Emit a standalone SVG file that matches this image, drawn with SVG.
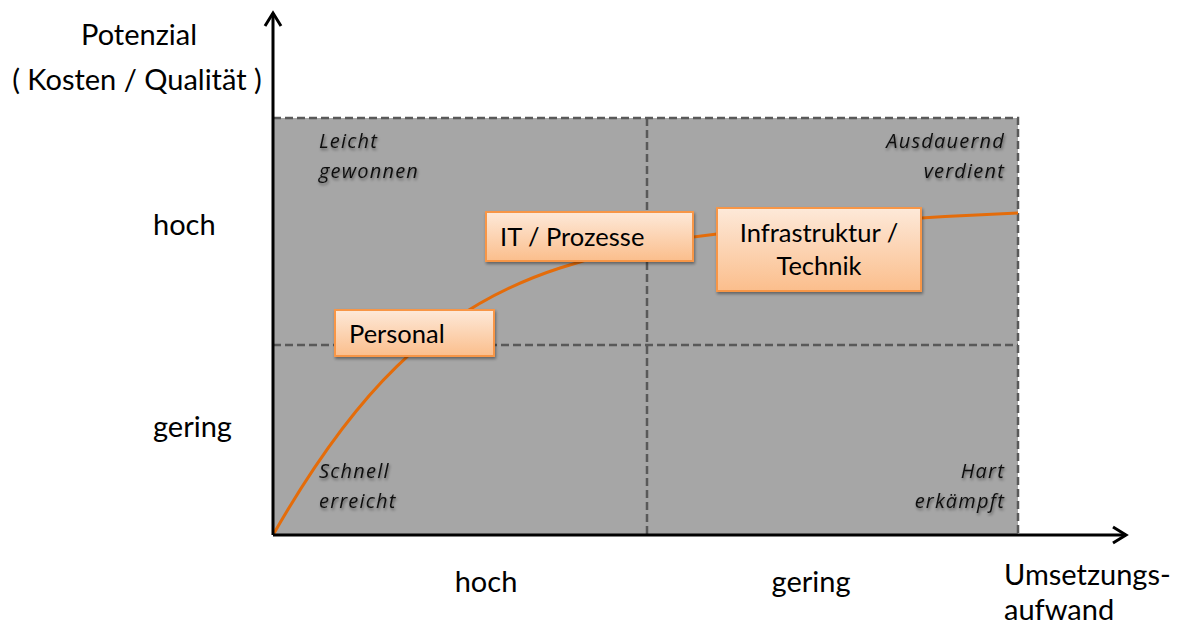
<svg xmlns="http://www.w3.org/2000/svg" width="1181" height="630" viewBox="0 0 1181 630">
  <style>
    .lbl { font-family: Lato, "Open Sans", "Liberation Sans", sans-serif; font-size: 29px; fill: #000; }
    .box-txt { font-family: Lato, "Open Sans", "Liberation Sans", sans-serif; font-size: 25.5px; fill: #000; }
    .quad { font-family: "Open Sans", Lato, "Liberation Sans", sans-serif; font-size: 20px; font-style: italic; letter-spacing: 1.2px; fill: #111; filter: url(#txtShadow); }
    .grid { stroke: #595959; stroke-width: 2.5; stroke-dasharray: 8 4; fill: none; }
    .axis { stroke: #000; stroke-width: 3; fill: none; }
    .box { fill: url(#boxGrad); stroke: #f79646; stroke-width: 2; filter: url(#boxShadow); }
  </style>
  <defs>
    <linearGradient id="boxGrad" x1="0" y1="0" x2="0" y2="1">
      <stop offset="0" stop-color="#fde9d9"/>
      <stop offset="1" stop-color="#fbbe8c"/>
    </linearGradient>
    <filter id="txtShadow" x="-20%" y="-30%" width="140%" height="160%">
      <feDropShadow dx="1" dy="2" stdDeviation="1.5" flood-color="#000" flood-opacity="0.45"/>
    </filter>
    <filter id="boxShadow" x="-10%" y="-20%" width="120%" height="140%">
      <feDropShadow dx="1" dy="2" stdDeviation="1.5" flood-color="#000" flood-opacity="0.4"/>
    </filter>
  </defs>

  <rect width="1181" height="630" fill="#fff"/>

  <!-- quadrant field -->
  <g id="field">
    <rect x="273" y="118" width="745" height="417" fill="#a6a6a6"/>
    <path class="grid" d="M273,118 H1018 V535"/>
    <path class="grid" d="M647,118 V535"/>
    <path class="grid" d="M273,345 H1018"/>
  </g>

  <!-- quadrant captions -->
  <g id="quadrants">
    <text class="quad" x="319" y="148">Leicht</text>
    <text class="quad" x="319" y="178">gewonnen</text>
    <text class="quad" x="1005" y="148" text-anchor="end">Ausdauernd</text>
    <text class="quad" x="1005" y="178" text-anchor="end">verdient</text>
    <text class="quad" x="319" y="478">Schnell</text>
    <text class="quad" x="319" y="508">erreicht</text>
    <text class="quad" x="1005" y="478" text-anchor="end">Hart</text>
    <text class="quad" x="1005" y="508" text-anchor="end">erkämpft</text>
  </g>

  <!-- potential curve and axes -->
  <g id="connectors">
    <path d="M273,535 C350,400 430,310 560,268 C610,252 660,240 717,234 C800,226 900,218 1018,213" fill="none" stroke="#e46c0a" stroke-width="3"/>
    <path class="axis" d="M273,535 V13"/>
    <path class="axis" d="M265,26 L273,13 L281,26"/>
    <path class="axis" d="M273,535 H1126"/>
    <path class="axis" d="M1113,527 L1126,535 L1113,543"/>
  </g>

  <!-- axis labels -->
  <g id="axis-labels">
    <text class="lbl" x="139" y="45" text-anchor="middle">Potenzial</text>
    <text class="lbl" x="137" y="90" text-anchor="middle">( Kosten / Qualität )</text>
    <text class="lbl" x="153" y="235">hoch</text>
    <text class="lbl" x="153" y="437">gering</text>
    <text class="lbl" x="486" y="592" text-anchor="middle">hoch</text>
    <text class="lbl" x="811" y="592" text-anchor="middle">gering</text>
    <text class="lbl" x="1004" y="585">Umsetzungs-</text>
    <text class="lbl" x="1004" y="620">aufwand</text>
  </g>

  <g id="node-personal">
    <rect class="box" x="335" y="310" width="159" height="46"/>
    <text class="box-txt" x="349" y="343">Personal</text>
  </g>
  <g id="node-it">
    <rect class="box" x="486" y="212" width="207" height="49"/>
    <text class="box-txt" x="500" y="246">IT / Prozesse</text>
  </g>
  <g id="node-infra">
    <rect class="box" x="717" y="208" width="204" height="83"/>
    <text class="box-txt" x="819" y="242" text-anchor="middle">Infrastruktur /</text>
    <text class="box-txt" x="819" y="275" text-anchor="middle">Technik</text>
  </g>
</svg>
